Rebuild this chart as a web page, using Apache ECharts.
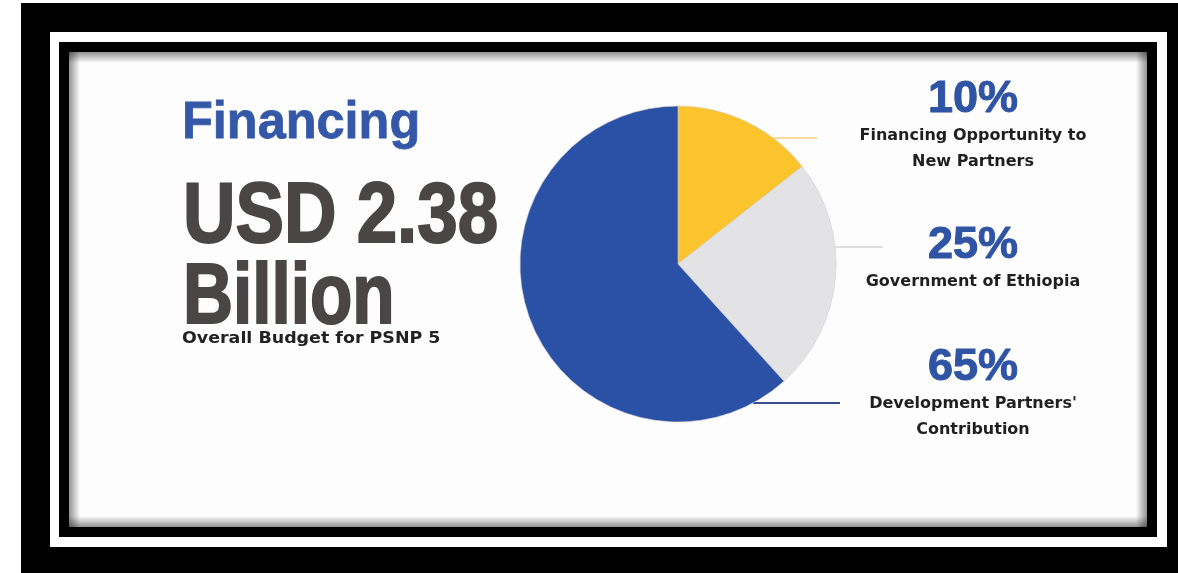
<!DOCTYPE html>
<html>
<head>
<meta charset="utf-8">
<script src="https://cdn.jsdelivr.net/npm/echarts@6/dist/echarts.min.js"></script>
<style>
  html, body { margin: 0; padding: 0; background: #fff; }
  #chart { width: 1178px; height: 573px; }
</style>
</head>
<body>
<div id="chart"></div>
<script>
// slices, clockwise from 12 o'clock
const sliceNames = ['Financing Opportunity to New Partners', 'Government of Ethiopia', "Development Partners' Contribution"];
const pctLabels = ['10%', '25%', '65%'];
const descLines = [
  ['Financing Opportunity to', 'New Partners'],
  ['Government of Ethiopia'],
  ["Development Partners'", 'Contribution']
];
// wedge sizes as drawn in the picture (they do not follow the printed %)
const sliceShares = [14.4, 23.9, 61.7];

const sliceColors = ['#fbc42c', '#e3e3e5', '#2a51a5'];
const lineColors = ['#f5dc9c', '#dedede', '#34508f'];

// layout
const cx = 678, cy = 264, r = 158;
const labelX = 973;
const labelTops = [77, 223, 345];
const lineYs = [138, 247, 403];
const lineEnds = [817, 883, 840];

// panel with soft inner shadow
const px = 69, py = 52, pw = 1078, ph = 475, sh = 11;
const dark = 'rgba(0,0,0,0.42)', clear = 'rgba(0,0,0,0)';
function grad(x, y, x2, y2) {
  return new echarts.graphic.LinearGradient(x, y, x2, y2, [
    { offset: 0, color: dark }, { offset: 1, color: clear }
  ]);
}

const chart = echarts.init(document.getElementById('chart'));

const option = {
  backgroundColor: '#fff',
  animation: false,
  graphic: [
    // frame
    { type: 'rect', z: 0, shape: { x: 21, y: 3, width: 1170, height: 580 }, style: { fill: '#000' } },
    { type: 'rect', z: 0, shape: { x: 50, y: 32, width: 1117, height: 515 }, style: { fill: '#fff' } },
    { type: 'rect', z: 0, shape: { x: 59, y: 42, width: 1098, height: 495 }, style: { fill: '#000' } },
    { type: 'rect', z: 0, shape: { x: px, y: py, width: pw, height: ph }, style: { fill: '#fdfdfd' } },
    { type: 'rect', z: 0, shape: { x: px, y: py, width: pw, height: sh }, style: { fill: grad(0, 0, 0, 1) } },
    { type: 'rect', z: 0, shape: { x: px, y: py + ph - sh, width: pw, height: sh }, style: { fill: grad(0, 1, 0, 0) } },
    { type: 'rect', z: 0, shape: { x: px, y: py, width: sh, height: ph }, style: { fill: grad(0, 0, 1, 0) } },
    { type: 'rect', z: 0, shape: { x: px + pw - sh, y: py, width: sh, height: ph }, style: { fill: grad(1, 0, 0, 0) } },
    // headline text
    { type: 'text', z: 0, x: 182, y: 124,
      style: { text: 'Financing', fill: '#3458a7', stroke: '#3458a7', lineWidth: 0.8,
               font: 'bold 52px "Liberation Sans", Arial, sans-serif',
               align: 'left', verticalAlign: 'middle' }, scaleX: 0.97, originX: 0 },
    { type: 'text', z: 0, x: 183, y: 219,
      style: { text: 'USD 2.38', fill: '#4a4646', stroke: '#4a4646', lineWidth: 2,
               font: 'bold 85px "Liberation Sans", Arial, sans-serif',
               align: 'left', verticalAlign: 'middle' }, scaleX: 0.855, originX: 0 },
    { type: 'text', z: 0, x: 183, y: 300,
      style: { text: 'Billion', fill: '#4a4646', stroke: '#4a4646', lineWidth: 2,
               font: 'bold 85px "Liberation Sans", Arial, sans-serif',
               align: 'left', verticalAlign: 'middle' }, scaleX: 0.815, originX: 0 },
    { type: 'text', z: 0, x: 182, y: 339,
      style: { text: 'Overall Budget for PSNP 5', fill: '#222', font: 'bold 16px "DejaVu Sans", sans-serif',
               align: 'left', verticalAlign: 'middle' }, scaleX: 1.09, originX: 0 }
  ],
  series: [{
    type: 'pie',
    center: [cx, cy],
    radius: r,
    startAngle: 90,
    clockwise: true,
    avoidLabelOverlap: false,
    itemStyle: { borderColor: '#cfcfd2', borderWidth: 0.6 },
    label: {
      show: true,
      position: 'outside',
      formatter: p => ['{pct|' + pctLabels[p.dataIndex] + '}']
        .concat(descLines[p.dataIndex].map(s => '{desc|' + s + '}')).join('\n'),
      rich: {
        pct: { fontSize: 45, fontWeight: 'bold', color: '#2f54a3', lineHeight: 46,
               textBorderColor: '#2f54a3', textBorderWidth: 1,
               fontFamily: '"Liberation Sans", Arial, sans-serif' },
        desc: { fontSize: 16, fontWeight: 'bold', color: '#1f1f1f', lineHeight: 26,
                fontFamily: '"DejaVu Sans", sans-serif' }
      }
    },
    labelLine: { show: true, smooth: false, lineStyle: { width: 2 } },
    labelLayout: p => {
      const i = p.dataIndex;
      const y = lineYs[i];
      const x0 = cx + Math.sqrt(r * r - (y - cy) * (y - cy));
      return {
        x: labelX,
        y: labelTops[i],
        align: 'center',
        verticalAlign: 'top',
        labelLinePoints: [[x0, y], [(x0 + lineEnds[i]) / 2, y], [lineEnds[i], y]]
      };
    },
    data: sliceShares.map((v, i) => ({
      name: sliceNames[i],
      value: v,
      itemStyle: { color: sliceColors[i] },
      labelLine: { lineStyle: { color: lineColors[i] } }
    }))
  }]
};

chart.setOption(option);
</script>
</body>
</html>
